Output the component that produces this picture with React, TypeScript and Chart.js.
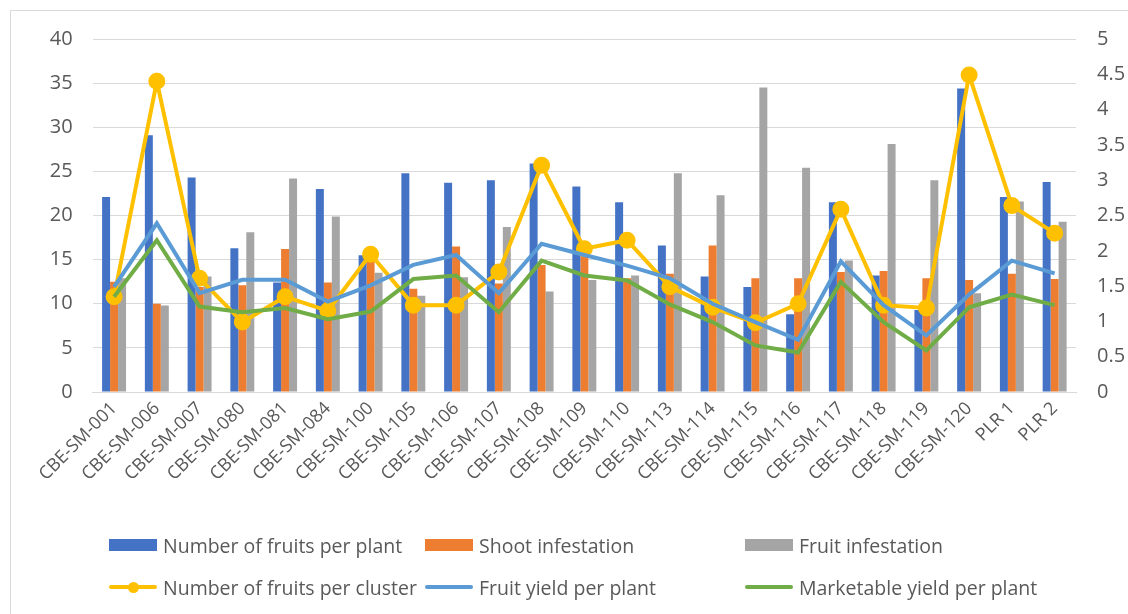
import React, { useEffect, useRef } from "react";
import { Chart, registerables } from "chart.js";

Chart.register(...registerables);

const categories = [
  "CBE-SM-001", "CBE-SM-006", "CBE-SM-007", "CBE-SM-080", "CBE-SM-081", "CBE-SM-084",
  "CBE-SM-100", "CBE-SM-105", "CBE-SM-106", "CBE-SM-107", "CBE-SM-108", "CBE-SM-109",
  "CBE-SM-110", "CBE-SM-113", "CBE-SM-114", "CBE-SM-115", "CBE-SM-116", "CBE-SM-117",
  "CBE-SM-118", "CBE-SM-119", "CBE-SM-120", "PLR 1", "PLR 2",
];

const fruitsPerPlant = [22.1, 29.1, 24.3, 16.3, 12.4, 23.0, 15.5, 24.8, 23.7, 24.0, 25.9, 23.3, 21.5, 16.6, 13.1, 11.9, 8.8, 21.5, 13.2, 9.3, 34.4, 22.1, 23.8];
const shootInfestation = [12.5, 10.0, 11.9, 12.1, 16.2, 12.4, 14.9, 11.7, 16.5, 12.3, 14.4, 15.5, 12.9, 13.4, 16.6, 12.9, 12.9, 13.6, 13.7, 12.9, 12.7, 13.4, 12.8];
const fruitInfestation = [12.9, 9.8, 13.1, 18.1, 24.2, 19.9, 13.5, 10.9, 13.0, 18.7, 11.4, 12.7, 13.2, 24.8, 22.3, 34.5, 25.4, 14.9, 28.1, 24.0, 11.2, 21.6, 19.3];
const fruitsPerCluster = [1.35, 4.4, 1.61, 0.99, 1.35, 1.15, 1.95, 1.23, 1.23, 1.7, 3.21, 2.03, 2.15, 1.49, 1.2, 0.98, 1.25, 2.59, 1.23, 1.19, 4.49, 2.64, 2.25];
const fruitYield = [1.49, 2.39, 1.4, 1.59, 1.59, 1.28, 1.51, 1.8, 1.94, 1.4, 2.1, 1.94, 1.79, 1.61, 1.25, 0.99, 0.74, 1.85, 1.23, 0.8, 1.38, 1.86, 1.68];
const marketableYield = [1.35, 2.15, 1.21, 1.13, 1.19, 1.03, 1.14, 1.6, 1.65, 1.13, 1.86, 1.65, 1.58, 1.24, 0.99, 0.66, 0.56, 1.56, 0.99, 0.59, 1.2, 1.38, 1.23];

const leftTicks = { min: 0, max: 40, step: 5 };
const rightTicks = { min: 0, max: 5, step: 0.5 };

const COLORS = {
  blue: "#4472C4",
  orange: "#ED7D31",
  gray: "#A5A5A5",
  yellow: "#FFC000",
  lightBlue: "#5B9BD5",
  green: "#70AD47",
  text: "#595959",
  grid: "#D9D9D9",
};

const FONT = "'Open Sans', 'DejaVu Sans', sans-serif";

type LegendItem = { label: string; color: string; kind: "box" | "line" | "marker"; x: number; y: number };

const legendItems: LegendItem[] = [
  { label: "Number of fruits per plant", color: COLORS.blue, kind: "box", x: 109, y: 545 },
  { label: "Shoot infestation", color: COLORS.orange, kind: "box", x: 425, y: 545 },
  { label: "Fruit infestation", color: COLORS.gray, kind: "box", x: 745, y: 545 },
  { label: "Number of fruits per cluster", color: COLORS.yellow, kind: "marker", x: 109, y: 587 },
  { label: "Fruit yield per plant", color: COLORS.lightBlue, kind: "line", x: 425, y: 587 },
  { label: "Marketable yield per plant", color: COLORS.green, kind: "line", x: 745, y: 587 },
];

export default function App() {
  const ref = useRef<HTMLCanvasElement | null>(null);

  useEffect(() => {
    document.body.style.margin = "0";
    const canvas = ref.current;
    if (!canvas) return;
    const chart = new Chart(canvas, {
      type: "bar",
      data: {
        labels: categories,
        datasets: [
          {
            type: "line",
            label: "Number of fruits per cluster",
            data: fruitsPerCluster,
            yAxisID: "y1",
            borderColor: COLORS.yellow,
            backgroundColor: COLORS.yellow,
            borderWidth: 4,
            pointRadius: 6.5,
            pointBackgroundColor: COLORS.yellow,
            pointBorderColor: COLORS.yellow,
            tension: 0,
            order: 3,
          } as any,
          {
            type: "line",
            label: "Fruit yield per plant",
            data: fruitYield,
            yAxisID: "y1",
            borderColor: COLORS.lightBlue,
            backgroundColor: COLORS.lightBlue,
            borderWidth: 4,
            pointRadius: 0,
            tension: 0,
            order: 2,
          } as any,
          {
            type: "line",
            label: "Marketable yield per plant",
            data: marketableYield,
            yAxisID: "y1",
            borderColor: COLORS.green,
            backgroundColor: COLORS.green,
            borderWidth: 4,
            pointRadius: 0,
            tension: 0,
            order: 1,
          } as any,
          {
            type: "bar",
            label: "Number of fruits per plant",
            data: fruitsPerPlant,
            yAxisID: "y",
            backgroundColor: COLORS.blue,
            barPercentage: 1,
            categoryPercentage: 0.56,
            order: 10,
          },
          {
            type: "bar",
            label: "Shoot infestation",
            data: shootInfestation,
            yAxisID: "y",
            backgroundColor: COLORS.orange,
            barPercentage: 1,
            categoryPercentage: 0.56,
            order: 10,
          },
          {
            type: "bar",
            label: "Fruit infestation",
            data: fruitInfestation,
            yAxisID: "y",
            backgroundColor: COLORS.gray,
            barPercentage: 1,
            categoryPercentage: 0.56,
            order: 10,
          },
        ],
      },
      options: {
        responsive: false,
        animation: false,
        devicePixelRatio: 1,
        layout: { padding: { top: 39, left: 0, right: 0, bottom: 0 } },
        plugins: {
          legend: { display: false },
          tooltip: { enabled: false },
        },
        scales: {
          x: {
            offset: true,
            grid: { display: false, drawTicks: false },
            border: { display: true, color: COLORS.grid, width: 1 },
            ticks: {
              autoSkip: false,
              maxRotation: 45,
              minRotation: 45,
              padding: 6,
              color: COLORS.text,
              font: { family: FONT, size: 18 },
            },
            afterFit: (s: any) => {
              s.height = 614 - 392;
            },
          },
          y: {
            position: "left",
            min: leftTicks.min,
            max: leftTicks.max,
            ticks: {
              stepSize: leftTicks.step,
              padding: 20,
              color: COLORS.text,
              font: { family: FONT, size: 20 },
            },
            grid: { color: COLORS.grid, lineWidth: 1, drawTicks: false },
            border: { display: false },
            afterFit: (s: any) => {
              s.width = 92.7;
            },
          },
          y1: {
            position: "right",
            min: rightTicks.min,
            max: rightTicks.max,
            ticks: {
              stepSize: rightTicks.step,
              padding: 21,
              color: COLORS.text,
              font: { family: FONT, size: 20 },
              callback: (v: any) => String(Number(v)),
            },
            grid: { drawOnChartArea: false, drawTicks: false },
            border: { display: false },
            afterFit: (s: any) => {
              s.width = 1128 - 1076;
            },
          },
        },
      },
    });
    return () => chart.destroy();
  }, []);

  return (
    <div style={{ position: "relative", width: 1128, height: 614, background: "#fff", overflow: "hidden" }}>
      <div
        style={{
          position: "absolute",
          left: 10,
          top: 10,
          width: 1200,
          height: 700,
          borderLeft: "1px solid #D9D9D9",
          borderTop: "1px solid #D9D9D9",
        }}
      />
      <canvas ref={ref} width={1128} height={614} style={{ position: "absolute", left: 0, top: 0 }} />
      {legendItems.map((it) => (
        <div
          key={it.label}
          style={{
            position: "absolute",
            left: it.x,
            top: it.y - 14,
            height: 28,
            display: "flex",
            alignItems: "center",
            fontFamily: FONT,
            fontSize: 19.5,
            color: COLORS.text,
            whiteSpace: "nowrap",
          }}
        >
          <div style={{ position: "relative", width: 48, height: 28, marginRight: 6 }}>
            {it.kind === "box" ? (
              <div style={{ position: "absolute", left: 0, top: 8, width: 48, height: 12, background: it.color }} />
            ) : (
              <>
                <div style={{ position: "absolute", left: 0, top: 12, width: 48, height: 4, background: it.color, borderRadius: 2 }} />
                {it.kind === "marker" ? (
                  <div
                    style={{
                      position: "absolute",
                      left: 18.5,
                      top: 8.5,
                      width: 11,
                      height: 11,
                      borderRadius: "50%",
                      background: it.color,
                    }}
                  />
                ) : null}
              </>
            )}
          </div>
          <span>{it.label}</span>
        </div>
      ))}
    </div>
  );
}
